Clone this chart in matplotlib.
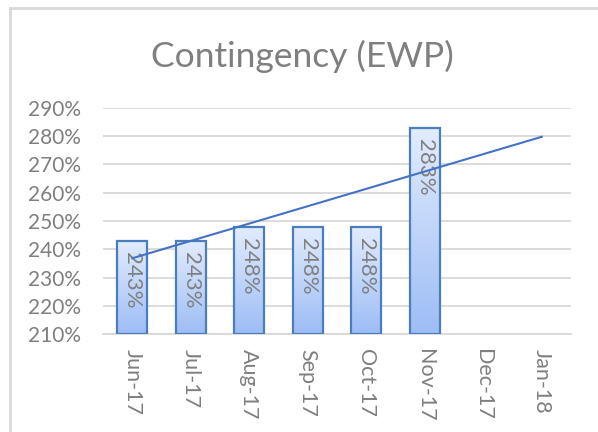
import matplotlib
matplotlib.use("Agg")
import matplotlib.pyplot as plt
import numpy as np
from matplotlib.colors import LinearSegmentedColormap
from matplotlib.lines import Line2D

# ---------------------------------------------------------------------------
# Data
# ---------------------------------------------------------------------------
MONTHS = ["Jun-17", "Jul-17", "Aug-17", "Sep-17", "Oct-17", "Nov-17", "Dec-17", "Jan-18"]
VALUES = [2.43, 2.43, 2.48, 2.48, 2.48, 2.83]          # Dec-17 / Jan-18 empty
Y_TICKS = [2.1, 2.2, 2.3, 2.4, 2.5, 2.6, 2.7, 2.8, 2.9]
TITLE = "Contingency (EWP)"

FONT = "Lato"
GREY = "#7f7f7f"
GRID = "#d9d9d9"
EDGE = "#4a7ebf"
TREND = "#4472c4"

plt.rcParams["font.family"] = [FONT, "DejaVu Sans"]

fig = plt.figure(figsize=(5.98, 4.32), dpi=100)
ax = fig.add_axes([103 / 598, 1 - 334 / 432, 468 / 598, 226 / 432])

x = np.arange(len(MONTHS))
xb = x[:len(VALUES)]
ymin, ymax = Y_TICKS[0], Y_TICKS[-1]

# gradient bars: light on top, blue at the bottom
grad = LinearSegmentedColormap.from_list("bar", ["#9dbdf6", "#e2ecfc"])
bars = ax.bar(xb, np.array(VALUES) - ymin, bottom=ymin, width=0.51,
              facecolor="none", edgecolor=EDGE, linewidth=1.6, zorder=3)
for b in bars:
    x0, y0 = b.get_x(), b.get_y()
    w, h = b.get_width(), b.get_height()
    im = ax.imshow(np.linspace(0, 1, 256).reshape(-1, 1), cmap=grad,
                   extent=[x0, x0 + w, y0, y0 + h], origin="lower",
                   aspect="auto", zorder=2)
    im.set_clip_path(b)

# value labels, rotated inside the bars
for xi, v in zip(xb, VALUES):
    ax.annotate(f"{v * 100:.0f}%", (xi, v), xytext=(0, -8),
                textcoords="offset points", rotation=270,
                ha="center", va="top", fontsize=16, color=GREY, zorder=4)

# linear trendline, extended to the last category
coef = np.polyfit(xb, VALUES, 1)
ax.plot(x, np.polyval(coef, x), color=TREND, linewidth=1.5, zorder=5)

ax.set_xlim(-0.5, len(MONTHS) - 0.5)
ax.set_ylim(ymin, ymax)
ax.set_yticks(Y_TICKS)
ax.set_yticklabels([f"{t * 100:.0f}%" for t in Y_TICKS])
ax.set_xticks(x)
ax.set_xticklabels(MONTHS, rotation=270)
ax.tick_params(axis="y", length=0, pad=16, labelsize=15, labelcolor=GREY)
ax.tick_params(axis="x", length=0, pad=11, labelsize=15.5, labelcolor=GREY)
for lab in ax.get_xticklabels():
    lab.set_va("top")
    lab.set_ha("center")

ax.grid(axis="y", color=GRID, linewidth=1.3, zorder=0)
ax.set_axisbelow(True)
for side in ["top", "right", "left"]:
    ax.spines[side].set_visible(False)
ax.spines["bottom"].set_color(GRID)
ax.spines["bottom"].set_linewidth(1.3)

fig.text(302 / 598, 1 - 56 / 432, TITLE, ha="center", va="center",
         fontsize=25.5, color=GREY)

# chart-area border (only top and left are visible in the crop)
fig.add_artist(Line2D([9.5 / 598, 1], [1 - 7.5 / 432, 1 - 7.5 / 432],
                      color=GRID, linewidth=2, transform=fig.transFigure))
fig.add_artist(Line2D([9.5 / 598, 9.5 / 598], [0, 1 - 7.5 / 432],
                      color=GRID, linewidth=2, transform=fig.transFigure))

fig.savefig("out.png", dpi=100)
